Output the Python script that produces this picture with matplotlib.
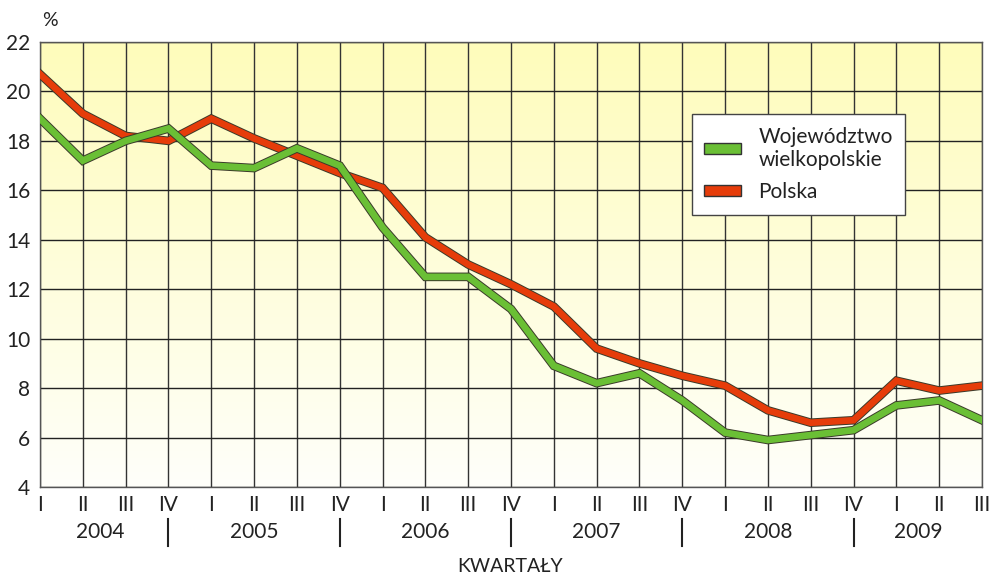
import numpy as np
import matplotlib
matplotlib.use("Agg")
import matplotlib.pyplot as plt
import matplotlib.patheffects as pe
from matplotlib.patches import Patch
from matplotlib.colors import LinearSegmentedColormap

# data (unemployment rate, %)
quarters = ["I", "II", "III", "IV"] * 5 + ["I", "II", "III"]
years = ["2004", "2005", "2006", "2007", "2008", "2009"]
wielkopolskie = [18.9, 17.2, 18.0, 18.5, 17.0, 16.9, 17.7, 17.0,
                 14.5, 12.5, 12.5, 11.2, 8.9, 8.2, 8.6, 7.5,
                 6.2, 5.9, 6.1, 6.3, 7.3, 7.5, 6.7]
polska = [20.7, 19.1, 18.2, 18.0, 18.9, 18.1, 17.4, 16.7,
          16.1, 14.1, 13.0, 12.2, 11.3, 9.6, 9.0, 8.5,
          8.1, 7.1, 6.6, 6.7, 8.3, 7.9, 8.1]

plt.rcParams['font.family'] = ['Lato', 'DejaVu Sans']
fs = 15
txt = '#222222'

fig = plt.figure(figsize=(9.9, 5.76), dpi=100)
ax = fig.add_axes([40/990, 1-487/576, 942/990, 445/576])

x = np.arange(len(quarters))
ax.set_xlim(0, len(quarters)-1)
ax.set_ylim(4, 22)

# yellow -> white gradient background
cmap = LinearSegmentedColormap.from_list('bg', ['#fffffa', '#fefcbb'])
grad = np.linspace(0, 1, 256).reshape(-1, 1)
ax.imshow(grad, cmap=cmap, aspect='auto', origin='lower',
          extent=[0, len(quarters)-1, 4, 22], zorder=0)

# grid
for xi in x:
    ax.axvline(xi, color='#333333', lw=1, zorder=1)
for yv in range(4, 23, 2):
    ax.axhline(yv, color='#222222', lw=1, zorder=1)

edge = [pe.Stroke(linewidth=6.2, foreground='#3a3a2a'), pe.Normal()]
ax.plot(x, polska, color='#e63c0a', lw=4.8, solid_joinstyle='miter',
        path_effects=edge, zorder=3)
ax.plot(x, wielkopolskie, color='#6abf35', lw=4.8, solid_joinstyle='miter',
        path_effects=edge, zorder=4)

for s in ax.spines.values():
    s.set_color('#555555')
    s.set_linewidth(1)

ax.set_yticks(range(4, 23, 2))
ax.tick_params(axis='y', length=0, pad=7, labelsize=fs, labelcolor=txt)
ax.set_xticks(x)
ax.set_xticklabels(quarters)
ax.tick_params(axis='x', length=0, pad=6, labelsize=fs, labelcolor=txt)

# years and separators below the quarter labels
trans = ax.get_xaxis_transform()
year_pos = [1.4, 5, 9, 13, 17, 20.5]
for yp, yr in zip(year_pos, years):
    ax.text(yp, -0.1, yr, transform=trans, ha='center', va='center',
            fontsize=fs, color=txt)
for sp in [3, 7, 11, 15, 19]:
    ax.plot([sp, sp], [-0.072, -0.133], transform=trans, color='#222222',
            lw=1.5, clip_on=False)

fig.text(0.515, 1-567/576, 'KWARTAŁY', ha='center', va='center',
         fontsize=fs-1, color=txt)
fig.text(42/990, 1-20/576, '%', ha='left', va='center', fontsize=fs-1,
         color=txt)

handles = [Patch(facecolor='#6abf35', edgecolor='#333333', lw=1),
           Patch(facecolor='#e63c0a', edgecolor='#333333', lw=1)]
leg = ax.legend(handles, ['Województwo\nwielkopolskie', 'Polska'],
                loc='upper left', bbox_to_anchor=(0.692, 0.838),
                borderaxespad=0, fontsize=fs, frameon=True, fancybox=False,
                handlelength=1.75, handleheight=0.42, handletextpad=0.85,
                labelspacing=0.6, borderpad=0.6, labelcolor=txt,
                framealpha=1)
leg.get_frame().set_edgecolor('#444444')
leg.get_frame().set_linewidth(1)
leg.set_zorder(5)

fig.savefig('out.png', dpi=100)
